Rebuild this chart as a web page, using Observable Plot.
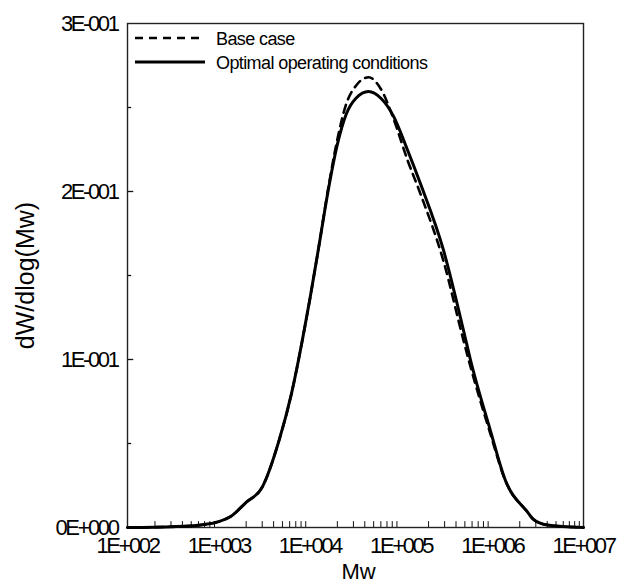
<!DOCTYPE html>
<html><head><meta charset="utf-8">
<script src="https://cdn.jsdelivr.net/npm/d3@7"></script>
<script src="https://cdn.jsdelivr.net/npm/@observablehq/plot@0.6"></script>
<style>body{margin:0;background:#fff}
.tick-text text{letter-spacing:-2.4px}
</style>
</head><body><div id="chart"></div>
<script>
// ---- data ----
const Mw = [100, 320, 630, 1000, 1350, 2000, 3000, 4600, 6300, 8300,
  1.0e4, 1.26e4, 1.58e4, 2.0e4, 2.5e4, 3.2e4, 4.4e4, 6.0e4, 8.3e4, 1.17e5,
  1.62e5, 2.9e5, 4.8e5, 5.75e5, 9.5e5, 1.38e6, 2.45e6, 2.8e6, 4.0e6, 1e7];
const optimal = [0, 0.0005, 0.0015, 0.0035, 0.0065, 0.015, 0.024, 0.052, 0.080, 0.112,
  0.136, 0.168, 0.200, 0.228, 0.246, 0.2555, 0.2595, 0.2555, 0.2446, 0.225,
  0.205, 0.1655, 0.118, 0.100, 0.058, 0.0286, 0.009, 0.005, 0.0015, 0];
const baseCase = [0, 0.0005, 0.0015, 0.0035, 0.0065, 0.015, 0.024, 0.052, 0.080, 0.112,
  0.136, 0.168, 0.201, 0.231, 0.252, 0.263, 0.268, 0.261, 0.243, 0.219,
  0.199, 0.159, 0.112, 0.096, 0.056, 0.0283, 0.009, 0.005, 0.0015, 0];
const seriesNames = ["Base case", "Optimal operating conditions"];
const xTicks = [1e2, 1e3, 1e4, 1e5, 1e6, 1e7];
const xTickLabels = ["1E+002", "1E+003", "1E+004", "1E+005", "1E+006", "1E+007"];
const decades = [1e2, 1e3, 1e4, 1e5, 1e6];
const minorMultipliers = [2, 3, 4, 5, 6, 7, 8, 9];
const yTicks = [0, 0.1, 0.2, 0.3];
const yTickLabels = ["0E+000", "1E-001", "2E-001", "3E-001"];
const yMinorTicks = [0.05, 0.15, 0.25];
const xLabel = "Mw";
const yLabel = "dW/dlog(Mw)";

// ---- build tables ----
const baseRows = Mw.map((m, i) => ({Mw: m, v: baseCase[i]}));
const optRows = Mw.map((m, i) => ({Mw: m, v: optimal[i]}));
const xMinor = decades.flatMap(d => minorMultipliers.map(k => d * k));
const yMajorInner = yTicks.slice(1, -1);

const font = "'Liberation Sans', Arial, sans-serif";

function legend(index, scales, values, dims) {
  const g = d3.create("svg:g");
  const rows = [
    {dy: 15, dash: "8,6", w: 2.6, label: seriesNames[0]},
    {dy: 39, dash: null, w: 3, label: seriesNames[1]}
  ];
  for (const r of rows) {
    const y = dims.marginTop + r.dy;
    const line = g.append("line")
      .attr("x1", dims.marginLeft + 8).attr("x2", dims.marginLeft + 78)
      .attr("y1", y).attr("y2", y)
      .attr("stroke", "#000").attr("stroke-width", r.w);
    if (r.dash) line.attr("stroke-dasharray", r.dash);
    g.append("text")
      .attr("x", dims.marginLeft + 89).attr("y", y + 6.5)
      .attr("text-anchor", "start")
      .attr("font-family", font).attr("font-size", 18)
      .attr("letter-spacing", "-0.6px")
      .attr("fill", "#000")
      .text(r.label);
  }
  return g.node();
}

const chart = Plot.plot({
  width: 618,
  height: 587,
  marginLeft: 127,
  marginRight: 35,
  marginTop: 23,
  marginBottom: 60,
  style: {fontFamily: font, fontSize: "22px", color: "#000", background: "#fff"},
  x: {type: "log", domain: [1e2, 1e7]},
  y: {domain: [0, 0.3]},
  marks: [
    Plot.ruleX(xMinor, {x: d => d, y1: 0, y2: 0.0035, stroke: "#111", strokeWidth: 1}),
    Plot.ruleY(yMajorInner, {y: d => d, x1: 1e2, x2: 117, stroke: "#111", strokeWidth: 1.3}),
    Plot.ruleY(yMinorTicks, {y: d => d, x1: 1e2, x2: 111, stroke: "#111", strokeWidth: 1.3}),
    Plot.frame({stroke: "#222", strokeWidth: 1.4}),
    Plot.axisX(xTicks, {tickSize: 0, tickPadding: 10, label: null, className: "tick-text",
      tickFormat: d => xTickLabels[xTicks.indexOf(d)], fontSize: 22}),
    Plot.axisY(yTicks, {tickSize: 0, tickPadding: 10, label: null, className: "tick-text",
      tickFormat: d => yTickLabels[yTicks.indexOf(d)], fontSize: 22}),
    Plot.line(baseRows, {x: "Mw", y: "v", stroke: "#000", strokeWidth: 2.6,
      strokeDasharray: "8,6", curve: "monotone-x"}),
    Plot.line(optRows, {x: "Mw", y: "v", stroke: "#000", strokeWidth: 3, curve: "monotone-x"}),
    Plot.text([yLabel], {frameAnchor: "left", dx: -102, rotate: -90, textAnchor: "middle",
      fontSize: 25, fill: "#000"}),
    Plot.text([xLabel], {frameAnchor: "bottom", dx: 3, dy: 44, lineAnchor: "middle",
      fontSize: 22, fill: "#000"}),
    legend
  ]
});
document.getElementById("chart").append(chart);
</script>
</body></html>
